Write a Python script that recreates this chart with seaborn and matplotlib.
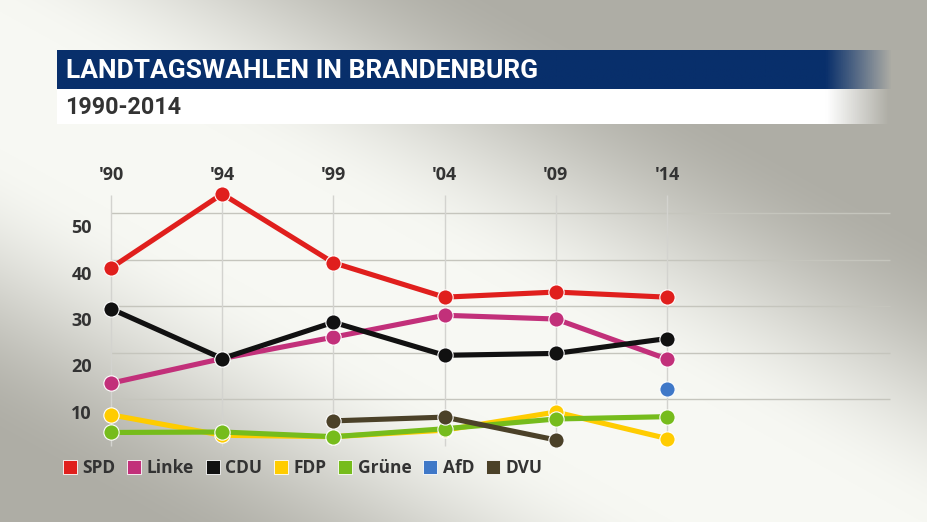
import numpy as np
import pandas as pd
import seaborn as sns
import matplotlib.pyplot as plt
from matplotlib.lines import Line2D
from matplotlib.transforms import ScaledTranslation

# data (percent of votes)
years = ["'90", "'94", "'99", "'04", "'09", "'14"]
parties = ["SPD", "Linke", "CDU", "FDP", "Grüne", "AfD", "DVU"]
spd = [38.2, 54.1, 39.3, 31.9, 33.0, 31.9]
linke = [13.4, 18.7, 23.3, 28.0, 27.2, 18.6]
cdu = [29.4, 18.7, 26.5, 19.4, 19.8, 23.0]
fdp = [6.6, 2.2, 1.9, 3.3, 7.2, 1.5]
gruene = [2.8, 2.9, 1.9, 3.6, 5.7, 6.2]
afd = [None, None, None, None, None, 12.2]
dvu = [None, None, 5.3, 6.1, 1.2, None]
colors = ["#e01f1d", "#c2307a", "#111111", "#ffcc00", "#76bc1c", "#3f78c8", "#4b4128"]
yticks = [10, 20, 30, 40, 50]

rows = []
for name, vals in zip(parties, [spd, linke, cdu, fdp, gruene, afd, dvu]):
    for i, v in enumerate(vals):
        if v is not None:
            rows.append({"idx": i, "val": v, "party": name})
df = pd.DataFrame(rows)

W, H = 928, 522
fig = plt.figure(figsize=(W / 100, H / 100), dpi=100)

# background: diagonal light band
bg = fig.add_axes([0, 0, 1, 1])
bg.set_xlim(0, W)
bg.set_ylim(H, 0)
bg.axis("off")
xx, yy = np.meshgrid(np.arange(W), np.arange(H))
d = np.abs((xx - 0) * -0.484 + (yy - 80) * 0.875)
t = np.clip((d - 60) / 260, 0, 1)
t = t * t * (3 - 2 * t)
light = np.array([0xf7, 0xf8, 0xf3]) / 255
gray = np.array([0xae, 0xad, 0xa5]) / 255
img = light[None, None, :] * (1 - t[..., None]) + gray[None, None, :] * t[..., None]
bg.imshow(img, extent=(0, W, H, 0), aspect="auto", zorder=0)

# title and subtitle bars with faded right end
bx = np.linspace(57, 893, 400)
fade = np.clip((893 - bx) / (893 - 827), 0, 1)
navy = np.zeros((1, 400, 4))
navy[..., :3] = np.array([0x08, 0x2f, 0x6b]) / 255
navy[..., 3] = fade
bg.imshow(navy, extent=(57, 893, 89, 50), aspect="auto", zorder=1)
fade2 = np.clip((890 - bx) / (890 - 828), 0, 1)
white = np.ones((1, 400, 4))
white[..., 3] = fade2
bg.imshow(white, extent=(57, 893, 124, 89), aspect="auto", zorder=1)
bg.text(66, 71, "LANDTAGSWAHLEN IN BRANDENBURG", color="white", fontsize=19,
        fontweight="bold", family=["Roboto", "DejaVu Sans"],
        va="center", ha="left", zorder=2)
bg.text(65, 107, "1990-2014", color="#333333", fontsize=16.8, fontweight="bold",
        family=["Roboto", "DejaVu Sans"], va="center", ha="left", zorder=2)

# main chart
left, right, top, bottom = 100, 900, 190, 460
ax = fig.add_axes([left / W, 1 - bottom / H, (right - left) / W, (bottom - top) / H])
ax.set_facecolor("none")
ax.set_xlim((left - 111) / 111.2, (right - 111) / 111.2)
ax.set_ylim((445.5 - bottom) / 4.65, (445.5 - top) / 4.65)
for s in ax.spines.values():
    s.set_visible(False)

ax.hlines(yticks, 0, (890 - 111) / 111.2, color="#c5c5bd", lw=1, zorder=1)
ax.vlines(range(len(years)), 0, 53.9, color="#d3d3cf", lw=1, zorder=1)

sns.lineplot(data=df, x="idx", y="val", hue="party", hue_order=parties,
             palette=colors, marker="o", markersize=11, markeredgecolor="white",
             markeredgewidth=0.8, linewidth=3.7, legend=False, errorbar=None,
             ax=ax, clip_on=False, zorder=3)

ax.set_xlabel("")
ax.set_ylabel("")
ax.xaxis.tick_top()
ax.set_xticks(range(len(years)))
ax.set_xticklabels(years)
ax.set_yticks(yticks)
ax.set_yticklabels([str(v) for v in yticks])
ax.tick_params(length=0, colors="#333333", labelsize=13)
ax.tick_params(axis="x", pad=4)
ax.tick_params(axis="y", pad=6)
for lab in ax.get_xticklabels() + ax.get_yticklabels():
    lab.set_fontweight("bold")
    lab.set_family(["Open Sans", "DejaVu Sans"])
for lab in ax.get_yticklabels():
    lab.set_transform(lab.get_transform() + ScaledTranslation(0, -0.13, fig.dpi_scale_trans))

handles = [Line2D([], [], ls="none", marker="s", markersize=10.5, markerfacecolor=c,
                  markeredgecolor="white", markeredgewidth=0.6) for c in colors]
leg = fig.legend(handles, parties, loc="center left", bbox_to_anchor=(64 / W, 1 - 468 / H),
                 ncol=len(parties), frameon=False, handlelength=0.7, handletextpad=0.35,
                 columnspacing=0.75, borderpad=0, borderaxespad=0,
                 prop={"family": ["Open Sans", "DejaVu Sans"], "weight": "bold", "size": 12.5})
for txt in leg.get_texts():
    txt.set_color("#333333")

fig.savefig("out.png", dpi=100)
